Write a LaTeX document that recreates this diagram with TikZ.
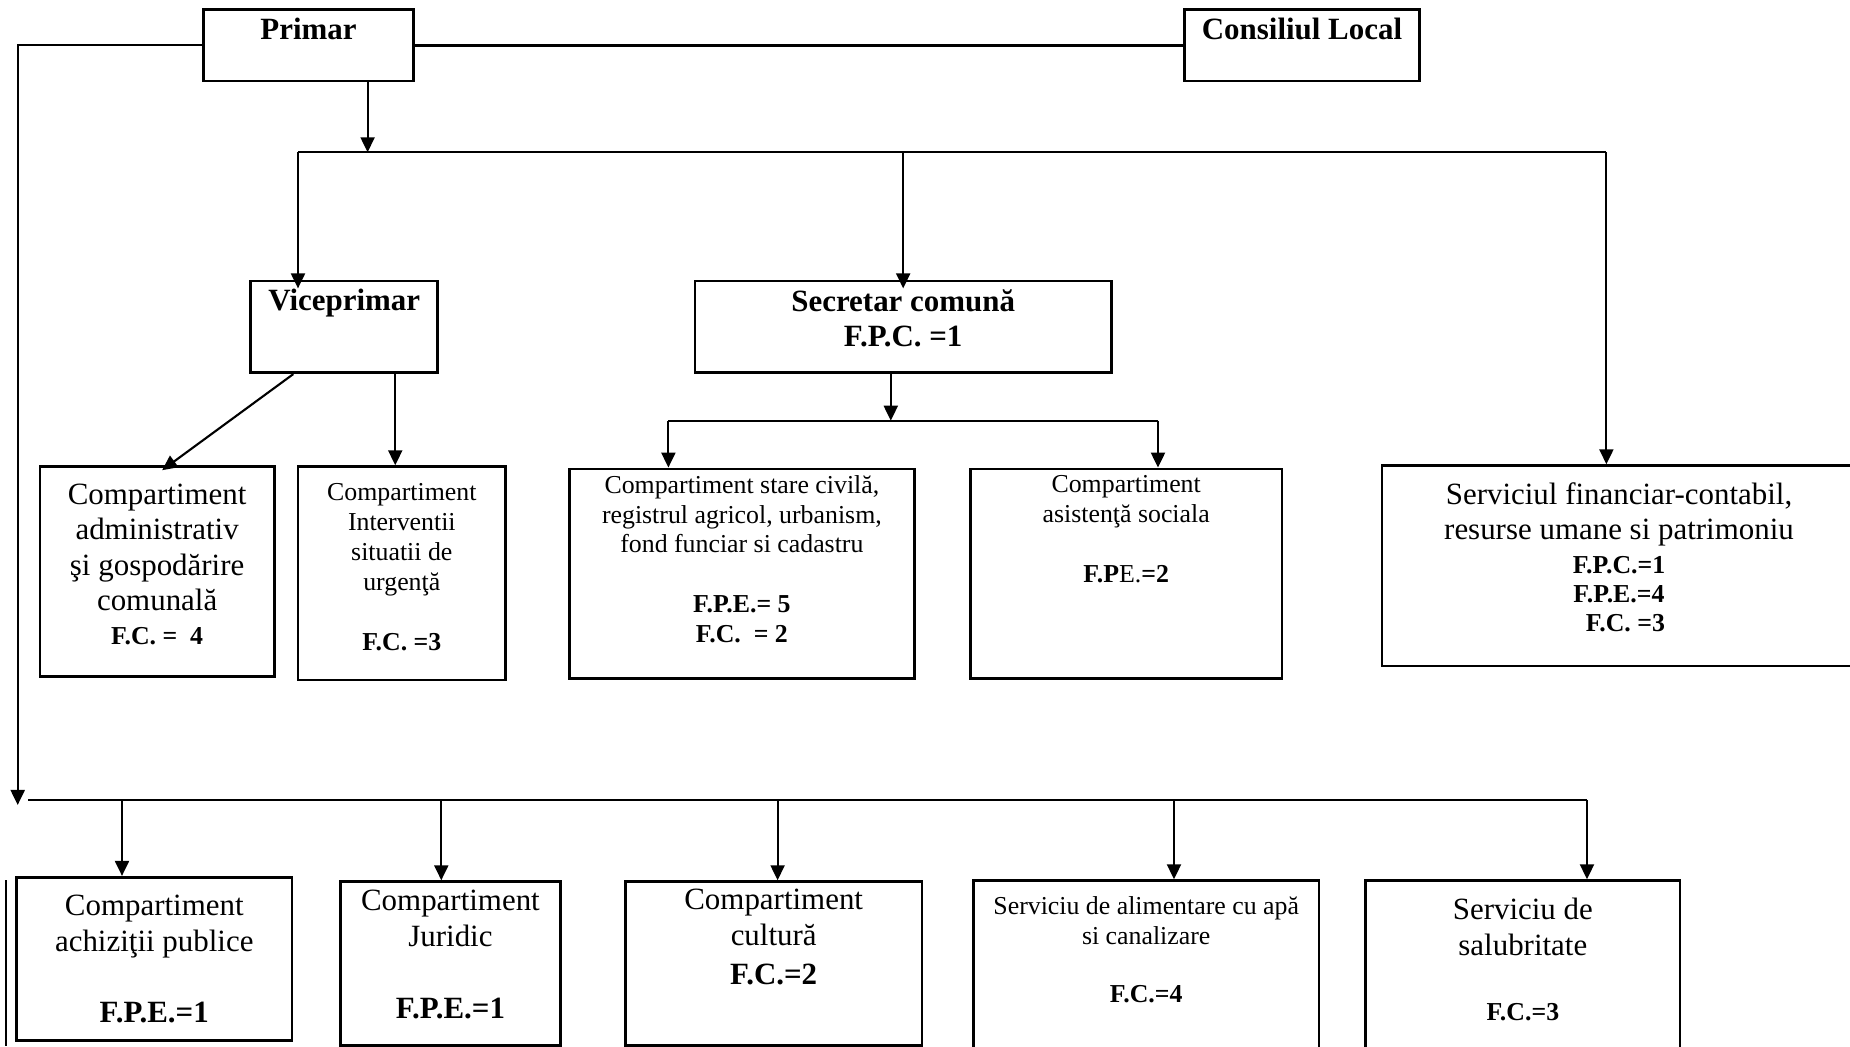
\documentclass[tikz,border=0pt]{standalone}
\usepackage{fontspec}
\setmainfont{Liberation Serif}
\usepackage{tikz}
\usetikzlibrary{positioning,fit,arrows.meta}
\newcommand{\fbig}{\fontsize{8.8}{10.1}\selectfont}
\newcommand{\fsmall}{\fontsize{7.35}{8.5}\selectfont}
\tikzset{
    box/.style={
        rectangle,
        draw=black,
        line width=0.8pt,
        inner sep=0pt
    },
    txt/.style={inner sep=0pt, align=center, font=\fbig},
    stxt/.style={inner sep=0pt, align=center, font=\fsmall},
    line/.style={line width=0.6pt},
    arrow/.style={
        line width=0.6pt,
        -{Triangle[length=1.5mm,width=1.4mm]}
    }
}

\begin{document}
\begin{tikzpicture}[x=0.1mm, y=-0.1mm]
    \useasboundingbox (0,0) rectangle (1850,1047);
    \clip (0,0) rectangle (1850,1047);
    % conducere
    \node (primar) [box, fit={(203.5,9.3) (413.6,81)}] {};
    \node (consiliu) [box, fit={(1184.6,9.3) (1419.4,81)}] {};
    \node (primarT) [txt, below=2.6pt of primar.north] {\textbf{Primar}};
    \node (consiliuT) [txt, below=2.6pt of consiliu.north] {\textbf{Consiliul Local}};
    \node (vice) [box, fit={(250.7,281) (437.8,372.7)}] {};
    \node (secr) [box, fit={(695,281) (1111.4,372.7)}] {};
    \node (viceT) [txt, below=2.6pt of vice.north] {\textbf{Viceprimar}};
    \node (secrT) [txt, font=\fbig\bfseries, below=2.6pt of secr.north] {Secretar comună\\ F.P.C. =1};
    % compartimente
    \node (admin) [box, fit={(40,466.7) (274.3,676.7)}] {};
    \node (adminT) [txt, below=5.1pt of admin.north] {Compartiment\\ administrativ\\ şi gospodărire\\ comunală\\[-0.6pt] {\fsmall\bfseries F.C. =~~4}};
    \node (interv) [box, fit={(298,466.7) (505.6,680)}] {};
    \node (intervT) [stxt, below=5pt of interv.north] {Compartiment\\ Interventii\\ situatii de\\ urgenţă\\[8.5pt] \textbf{F.C. =3}};
    \node (civil) [box, fit={(569.3,469) (914.5,678.3)}] {};
    \node (civilT) [stxt, below=2pt of civil.north] {Compartiment stare civilă,\\ registrul agricol, urbanism,\\ fond funciar si cadastru\\[8.5pt] \textbf{F.P.E.= 5}\\ \textbf{F.C.~~= 2}};
    \node (asist) [box, fit={(970.4,469) (1282,678.3)}] {};
    \node (asistT) [stxt, below=2pt of asist.north] {Compartiment\\ asistenţă sociala\\[8.5pt] \textbf{F.P}E.\textbf{=2}};
    \node (finan) [box, fit={(1382,465.7) (1856,666)}] {};
    \node (finanT) [txt, below=5pt of finan.north] {Serviciul financiar-contabil,\\ resurse umane si patrimoniu\\[-0.4pt] {\fsmall\bfseries F.P.C.=1}\\[-2.1pt] {\fsmall\bfseries F.P.E.=4}\\[-1.6pt] {\fsmall\bfseries ~~F.C. =3}};
    % randul de jos
    \node (achiz) [box, fit={(16.5,877.3) (292,1040.7)}] {};
    \node (achizT) [txt, below=5.3pt of achiz.north] {Compartiment\\ achiziţii publice\\[10.1pt] \textbf{F.P.E.=1}};
    \node (jurid) [box, fit={(340.4,881.7) (560.5,1045.5)}] {};
    \node (juridT) [txt, below=2.6pt of jurid.north] {Compartiment\\ Juridic\\[10.6pt] \textbf{F.P.E.=1}};
    \node (cult) [box, fit={(625.4,881.7) (922,1045.5)}] {};
    \node (cultT) [txt, below=2.4pt of cult.north] {Compartiment\\ cultură\\[1pt] \textbf{F.C.=2}};
    \node (apa) [box, fit={(973.4,880.7) (1319,1060)}] {};
    \node (apaT) [stxt, below=4.7pt of apa.north] {Serviciu de alimentare cu apă\\ si canalizare\\[8pt] \textbf{F.C.=4}};
    \node (salub) [box, fit={(1365.7,880.7) (1680,1060)}] {};
    \node (salubT) [txt, below=5.2pt of salub.north] {Serviciu de\\ salubritate\\[8.5pt] {\fsmall\bfseries F.C.=3}};

    % legaturi primar
    \draw [line, line width=0.9pt] (primar.east) -- (consiliu.west);
    \coordinate (leftend) at (17.7,805);
    \draw [arrow] (primar.west) -| (leftend);
    \coordinate (busL) at (298,152.3);
    \coordinate (busM) at (367.6,152.3);
    \coordinate (busR) at (1606.4,152.3);
    \draw [arrow] (primar.south -| busM) -- (busM);
    \draw [line] (busL) -- (busR);
    \draw [arrow, shorten >=-2.5pt] (busL) -- (busL |- vice.north);
    \draw [arrow, shorten >=-2.5pt] (secr.north |- busL) -- (secr.north);
    \draw [arrow] (busR) -- (busR |- finan.north);

    % legaturi viceprimar
    \draw [arrow] ([xshift=4.4mm]vice.south west) -- ([xshift=0.5mm,yshift=-1.4pt]admin.north);
    \coordinate (v2) at ([xshift=5.1mm]vice.south);
    \draw [arrow] (v2) -- (v2 |- interv.north);

    % legaturi secretar
    \coordinate (bus2L) at (668.4,420.7);
    \coordinate (bus2M) at (890.8,420.7);
    \coordinate (bus2R) at (1158,420.7);
    \draw [arrow] (secr.south -| bus2M) -- (bus2M);
    \draw [line] (bus2L) -- (bus2R);
    \draw [arrow] (bus2L) -- (bus2L |- civil.north);
    \draw [arrow] (bus2R) -- (bus2R |- asist.north);

    % randul de jos
    \coordinate (bus3L) at (28.3,800);
    \coordinate (bus3R) at (1587,800);
    \draw [line] (bus3L) -- (bus3R);
    \foreach \x/\n in {122/achiz, 441.3/jurid, 777.6/cult, 1174/apa, 1587/salub}{
        \coordinate (b\n) at (\x,800);
        \draw [arrow] (b\n) -- (b\n |- \n.north);
    }
    \draw [line] ([xshift=-0.95mm,yshift=-0.44mm]achiz.north west) -- ([xshift=-0.95mm,yshift=-0.43mm]achiz.south west);
\end{tikzpicture}
\end{document}
